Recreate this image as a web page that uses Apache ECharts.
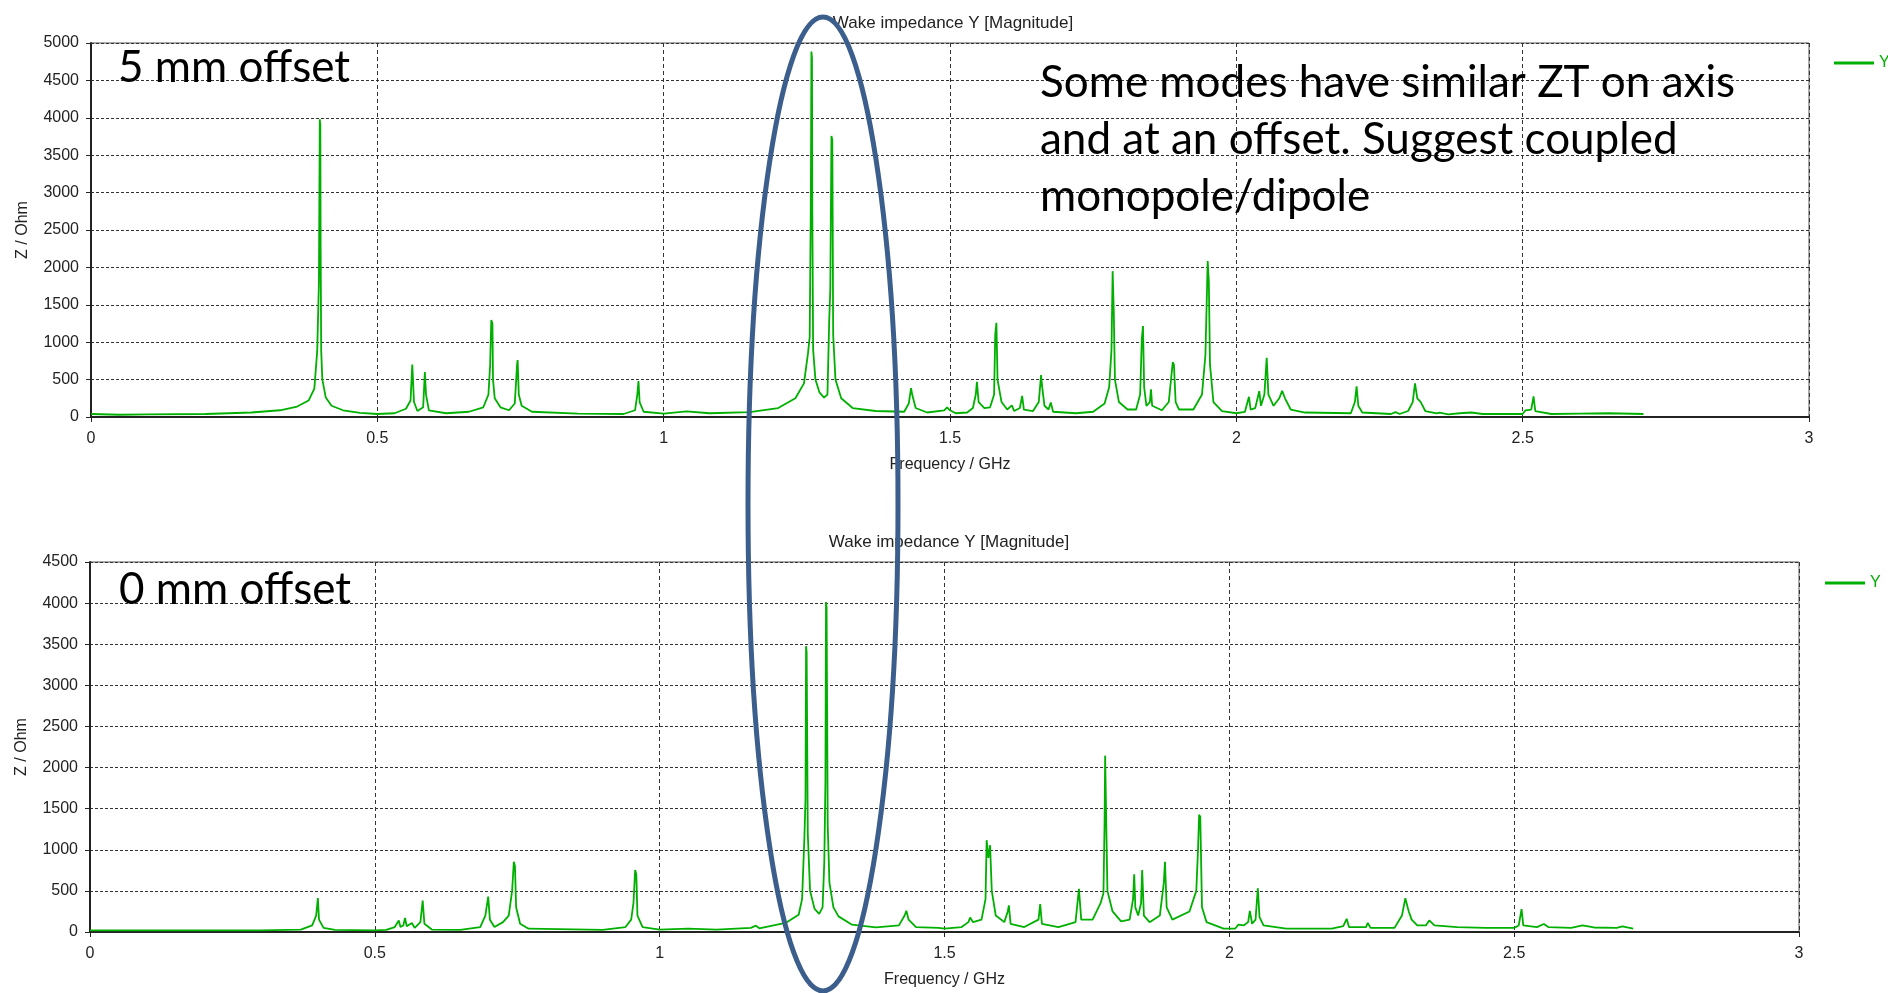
<!DOCTYPE html>
<html>
<head>
<meta charset="utf-8">
<script src="https://cdn.jsdelivr.net/npm/echarts@6/dist/echarts.min.js"></script>
<style>
  html, body { margin: 0; padding: 0; background: #fff; }
  #chart { width: 1888px; height: 993px; }
</style>
</head>
<body>
<div id="chart"></div>
<script>
// 频率刻度 (GHz)
const freqTicks = [0, 0.5, 1, 1.5, 2, 2.5, 3];

// 5 mm offset : [f / GHz, Z / Ohm]
const offset5 = [
  [0,40],[0.05,30],[0.1,35],[0.2,40],[0.28,60],[0.33,90],[0.36,140],[0.38,220],[0.39,380],[0.395,880],
  [0.398,1800],[0.3995,3980],[0.4005,3900],[0.401,2250],[0.402,880],[0.404,500],[0.41,260],[0.42,150],
  [0.44,90],[0.47,55],[0.5,40],[0.53,50],[0.55,110],[0.558,220],[0.561,700],[0.5625,719],[0.564,200],
  [0.57,80],[0.58,130],[0.583,600],[0.585,300],[0.59,90],[0.62,50],[0.66,70],[0.685,130],[0.694,300],
  [0.697,700],[0.699,1295],[0.701,1250],[0.702,500],[0.705,250],[0.715,130],[0.73,90],[0.74,180],
  [0.744,700],[0.745,760],[0.747,300],[0.752,150],[0.77,70],[0.85,45],[0.93,40],[0.95,90],[0.954,300],
  [0.956,480],[0.958,200],[0.965,70],[1.0,45],[1.04,75],[1.08,50],[1.15,65],[1.2,120],[1.23,250],
  [1.245,450],[1.252,850],[1.255,1070],[1.257,2860],[1.258,4886],[1.259,4800],[1.2595,2860],[1.261,900],
  [1.265,500],[1.272,330],[1.28,260],[1.286,300],[1.289,1265],[1.291,1720],[1.293,3757],[1.2945,3700],
  [1.296,1100],[1.3,500],[1.31,250],[1.33,120],[1.37,80],[1.42,70],[1.428,180],[1.432,385],[1.434,300],
  [1.44,120],[1.46,60],[1.49,90],[1.495,130],[1.5,90],[1.51,50],[1.53,60],[1.54,120],[1.545,300],
  [1.547,470],[1.55,200],[1.56,120],[1.57,130],[1.577,300],[1.579,1100],[1.581,1260],[1.583,500],
  [1.59,200],[1.6,100],[1.608,155],[1.612,80],[1.622,120],[1.626,282],[1.629,100],[1.645,80],[1.655,200],
  [1.659,560],[1.661,400],[1.665,150],[1.672,100],[1.676,195],[1.68,70],[1.72,50],[1.75,70],[1.77,180],
  [1.778,400],[1.782,900],[1.784,1950],[1.786,1400],[1.788,500],[1.795,200],[1.81,100],[1.825,100],
  [1.832,300],[1.835,1050],[1.837,1215],[1.839,400],[1.843,150],[1.849,200],[1.851,370],[1.853,150],
  [1.87,90],[1.882,200],[1.889,735],[1.891,700],[1.894,200],[1.9,100],[1.925,100],[1.94,300],[1.946,825],
  [1.95,2085],[1.952,1800],[1.954,700],[1.96,200],[1.975,80],[2.0,50],[2.015,70],[2.022,270],[2.025,100],
  [2.033,120],[2.04,345],[2.043,150],[2.049,300],[2.053,790],[2.056,300],[2.065,150],[2.075,250],
  [2.08,350],[2.085,250],[2.095,100],[2.12,60],[2.2,50],[2.207,200],[2.21,410],[2.213,150],[2.22,60],
  [2.27,40],[2.278,65],[2.285,40],[2.3,80],[2.308,200],[2.312,450],[2.316,250],[2.322,200],[2.33,80],
  [2.35,50],[2.355,60],[2.37,35],[2.39,50],[2.41,60],[2.43,40],[2.5,40],[2.505,90],[2.515,100],
  [2.519,275],[2.522,80],[2.55,40],[2.6,45],[2.65,50],[2.711,40]
];

// 0 mm offset : [f / GHz, Z / Ohm]
const offset0 = [
  [0,20],[0.1,20],[0.2,20],[0.3,20],[0.37,30],[0.39,80],[0.397,200],[0.4,413],[0.402,150],[0.41,50],
  [0.43,25],[0.5,20],[0.52,25],[0.535,60],[0.542,140],[0.545,60],[0.55,80],[0.553,170],[0.556,70],
  [0.565,110],[0.57,50],[0.58,120],[0.584,383],[0.587,100],[0.6,30],[0.65,25],[0.685,60],[0.694,200],
  [0.699,430],[0.702,150],[0.71,60],[0.725,120],[0.735,200],[0.741,500],[0.744,855],[0.746,800],
  [0.748,300],[0.755,100],[0.77,40],[0.9,25],[0.94,60],[0.95,150],[0.954,350],[0.957,754],[0.959,700],
  [0.961,200],[0.97,60],[1.0,30],[1.05,40],[1.1,30],[1.16,50],[1.169,77],[1.175,45],[1.2,80],[1.221,110],
  [1.244,210],[1.25,400],[1.254,1137],[1.256,1621],[1.257,3476],[1.258,3400],[1.26,1200],[1.264,500],
  [1.272,280],[1.28,220],[1.286,300],[1.289,855],[1.29,1339],[1.291,1843],[1.292,4012],[1.293,3950],
  [1.295,1300],[1.298,600],[1.305,300],[1.314,190],[1.337,90],[1.38,55],[1.42,80],[1.43,200],[1.433,258],
  [1.437,150],[1.45,60],[1.49,50],[1.493,70],[1.5,40],[1.53,60],[1.542,120],[1.545,177],[1.55,120],
  [1.565,150],[1.572,400],[1.574,1117],[1.577,900],[1.58,1056],[1.583,500],[1.59,200],[1.605,120],
  [1.611,250],[1.613,323],[1.616,100],[1.64,60],[1.665,150],[1.668,339],[1.671,100],[1.7,60],[1.73,120],
  [1.736,524],[1.74,150],[1.76,150],[1.774,350],[1.779,472],[1.781,1339],[1.782,2145],[1.784,1300],
  [1.786,500],[1.795,250],[1.81,130],[1.825,150],[1.831,400],[1.833,702],[1.835,300],[1.84,200],
  [1.845,350],[1.847,754],[1.85,200],[1.86,120],[1.878,200],[1.885,600],[1.887,855],[1.89,300],[1.9,150],
  [1.93,250],[1.942,500],[1.945,1000],[1.947,1427],[1.949,1400],[1.952,300],[1.96,120],[1.99,40],
  [2.01,40],[2.016,90],[2.019,110],[2.025,80],[2.033,120],[2.036,258],[2.04,100],[2.046,150],[2.05,532],
  [2.053,180],[2.06,80],[2.1,40],[2.18,40],[2.2,70],[2.206,161],[2.21,60],[2.24,60],[2.243,110],
  [2.248,50],[2.29,50],[2.303,200],[2.309,411],[2.313,300],[2.315,250],[2.32,150],[2.33,80],[2.345,80],
  [2.351,141],[2.36,80],[2.4,60],[2.45,50],[2.5,50],[2.508,80],[2.513,278],[2.516,80],[2.54,60],
  [2.552,97],[2.56,60],[2.6,50],[2.62,81],[2.64,55],[2.68,50],[2.69,69],[2.709,40]
];

const yMaxTop = 5000;
const yMaxBottom = 4500;
const chartTitle = 'Wake impedance Y [Magnitude]';
const noteLines = ['Some modes have similar ZT on axis', 'and at an offset. Suggest coupled', 'monopole/dipole'];

const green = '#00b000';
const axisFont = { fontFamily: 'Liberation Sans, Arial, sans-serif', fontSize: 16, color: '#222' };
const bigFont = '44px Lato, "Open Sans", sans-serif';

// 坐标轴
const makeX = (gridIndex) => ({
  type: 'value', gridIndex, min: freqTicks[0], max: freqTicks[freqTicks.length - 1], interval: 0.5,
  name: 'Frequency / GHz', nameLocation: 'middle', nameGap: 40,
  nameTextStyle: axisFont,
  axisLine: { lineStyle: { color: '#222', width: 2 } },
  axisTick: { show: true, length: 5, lineStyle: { color: '#222' } },
  axisLabel: Object.assign({ margin: 14, formatter: (v) => String(v) }, axisFont),
  splitLine: { show: true, lineStyle: { color: '#333', type: [4, 3], width: 1 } }
});
const makeY = (gridIndex, max) => ({
  type: 'value', gridIndex, min: 0, max, interval: 500,
  name: 'Z / Ohm', nameLocation: 'middle', nameGap: 60,
  nameTextStyle: axisFont,
  axisLine: { show: true, lineStyle: { color: '#222', width: 2 } },
  axisTick: { show: true, length: 5, lineStyle: { color: '#222' } },
  axisLabel: Object.assign({ margin: 12, formatter: (v) => String(v) }, axisFont),
  splitLine: { show: true, lineStyle: { color: '#333', type: [3, 2], width: 1 } }
});

const titleStyle = Object.assign({}, axisFont, { fontWeight: 'normal', fontSize: 17 });

const chart = echarts.init(document.getElementById('chart'));
chart.setOption({
  animation: false,
  backgroundColor: '#fff',
  title: [
    { text: chartTitle, left: 948, top: 10, textAlign: 'center', textStyle: titleStyle },
    { text: chartTitle, left: 944, top: 529, textAlign: 'center', textStyle: titleStyle }
  ],
  legend: [
    { data: ['Y'], left: 1829, top: 50, icon: 'rect', itemWidth: 40, itemHeight: 3, itemGap: 4,
      textStyle: Object.assign({}, axisFont, { color: green }) },
    { data: ['Y'], left: 1820, top: 570, icon: 'rect', itemWidth: 40, itemHeight: 3, itemGap: 4,
      textStyle: Object.assign({}, axisFont, { color: green }) }
  ],
  grid: [
    { left: 91, top: 43, width: 1718, height: 374, show: true, borderColor: '#555', borderWidth: 1 },
    { left: 90, top: 562, width: 1709, height: 370, show: true, borderColor: '#555', borderWidth: 1 }
  ],
  xAxis: [makeX(0), makeX(1)],
  yAxis: [makeY(0, yMaxTop), makeY(1, yMaxBottom)],
  series: [
    { name: 'Y', type: 'line', xAxisIndex: 0, yAxisIndex: 0, data: offset5,
      showSymbol: false, color: green, lineStyle: { width: 1.8, color: green } },
    { name: 'Y', type: 'line', xAxisIndex: 1, yAxisIndex: 1, data: offset0,
      showSymbol: false, color: green, lineStyle: { width: 1.8, color: green } }
  ],
  graphic: [
    { type: 'text', left: 118, top: 46, z: 50,
      style: { text: '5 mm offset', font: bigFont, fill: '#000' } },
    { type: 'text', left: 119, top: 568, z: 50,
      style: { text: '0 mm offset', font: bigFont, fill: '#000' } },
    { type: 'text', left: 1040, top: 54, z: 50,
      style: { text: noteLines.join('\n'), font: bigFont, lineHeight: 57, fill: '#000' } },
    // 圈出耦合模
    { type: 'ellipse', z: 100,
      shape: { cx: 823, cy: 504, rx: 75, ry: 487 },
      style: { fill: 'none', stroke: '#3b5e8c', lineWidth: 5 } }
  ]
});
</script>
</body>
</html>
